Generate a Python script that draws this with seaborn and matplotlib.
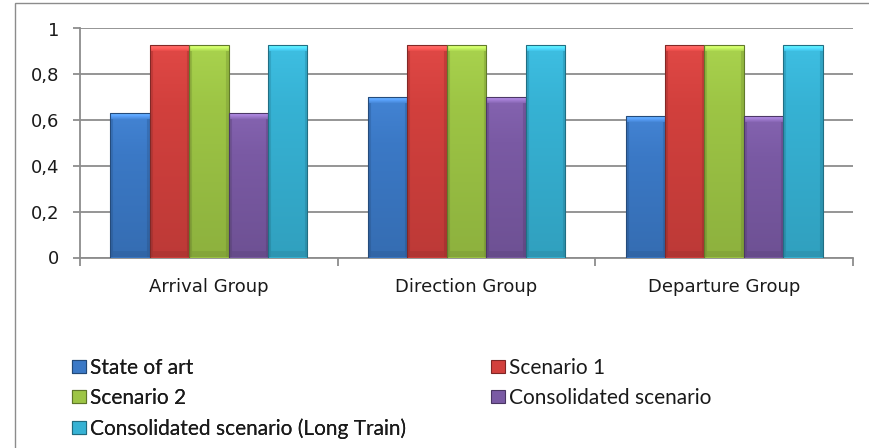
import matplotlib
matplotlib.use("Agg")
import matplotlib.pyplot as plt
import matplotlib.patches as mpatches
import matplotlib.colors as mcolors
from matplotlib.font_manager import FontProperties
import numpy as np
import pandas as pd
import seaborn as sns

groups = ["Arrival Group", "Direction Group", "Departure Group"]
series = ["State of art", "Scenario 1", "Scenario 2",
          "Consolidated scenario", "Consolidated scenario (Long Train)"]
state_of_art = [0.63, 0.70, 0.62]
scenario_1 = [0.93, 0.93, 0.93]
scenario_2 = [0.93, 0.93, 0.93]
consolidated = [0.63, 0.70, 0.62]
consolidated_long = [0.93, 0.93, 0.93]
colors = ["#3B79C6", "#D2403D", "#9DC545", "#7A5AA4", "#36B2D4"]
yticks = [0, 0.2, 0.4, 0.6, 0.8, 1]
ytick_labels = ["0", "0,2", "0,4", "0,6", "0,8", "1"]

table = {s: v for s, v in zip(series, [state_of_art, scenario_1, scenario_2,
                                        consolidated, consolidated_long])}
rows = [(g, s, v) for s in series for g, v in zip(groups, table[s])]
df = pd.DataFrame(rows, columns=["group", "series", "value"])

sns.set_style("white")
plt.rcParams["font.family"] = ["DejaVu Sans"]

W, H = 869, 448
fig = plt.figure(figsize=(W / 100, H / 100), dpi=100)
ax = fig.add_axes([80 / W, 1 - 257.5 / H, (853 - 80) / W, (257.5 - 28.5) / H])

sns.barplot(data=df, x="group", y="value", hue="series", order=groups,
            hue_order=series, palette=colors, saturation=1, width=0.765,
            gap=0, edgecolor="none", linewidth=0, legend=False, ax=ax, zorder=3)

ax.set_ylim(0, 1)
ax.set_xlim(-0.5, 2.5)


def shade(color, nrow, ncol):
    """Bevelled fill: light top bevel, darker sides and base, soft vertical fade."""
    base = np.array(mcolors.to_rgb(color))
    r = np.arange(nrow)[:, None]
    c = np.arange(ncol)[None, :]
    f = 1.04 - 0.14 * (r / max(nrow - 1, 1))
    f = f * np.ones((nrow, ncol))
    top = r < 7
    f = np.where(top, f + 0.22 * (1 - r / 7), f)
    side = (c < 3) | (c >= ncol - 3)
    f = np.where(side & ~top, f - 0.10, f)
    base_band = r >= nrow - 6
    f = np.where(base_band & ~side, f - 0.06, f)
    img = np.clip(base[None, None, :] * f[..., None]
                  + np.where(f[..., None] > 1, (f[..., None] - 1) * 0.6, 0), 0, 1)
    return img


ppu_x = (853 - 80) / 3.0
ppu_y = 257.5 - 28.5
for patch in list(ax.patches):
    x, y = patch.get_x(), patch.get_y()
    w, h = patch.get_width(), patch.get_height()
    if h <= 0:
        continue
    fc = patch.get_facecolor()
    nrow = max(int(round(h * ppu_y)), 2)
    ncol = max(int(round(w * ppu_x)), 2)
    img = shade(fc, nrow, ncol)
    im = ax.imshow(img, extent=[x, x + w, y, y + h], origin="upper",
                   aspect="auto", interpolation="bilinear", zorder=3.5)
    im.set_clip_path(patch)
    patch.set_zorder(3)
    edge = mpatches.Rectangle((x, y), w, h, fill=False,
                              edgecolor=tuple(v * 0.62 for v in fc[:3]),
                              linewidth=0.8, zorder=3.6)
    ax.add_patch(edge)

ax.set_xlim(-0.5, 2.5)
ax.set_ylim(0, 1)

grid = "#8C8C8C"
ax.set_yticks(yticks)
ax.set_yticklabels(ytick_labels)
ax.yaxis.grid(True, color=grid, linewidth=1.3, zorder=0)
ax.set_axisbelow(True)
ax.set_xticks([-0.5, 0.5, 1.5, 2.5], minor=False)
ax.set_xticklabels([])
ax.set_xticks([0, 1, 2], minor=True)
ax.set_xticklabels(groups, minor=True)
ax.tick_params(axis="x", which="major", length=6, width=1.3, color=grid, direction="out")
ax.tick_params(axis="x", which="minor", length=0, pad=15, labelsize=13, labelcolor="#1A1A1A")
ax.tick_params(axis="y", length=5, width=1.3, color=grid, direction="out", pad=10,
               labelsize=13, labelcolor="#1A1A1A")
ax.tick_params(left=True, bottom=True)
ax.set_xlabel("")
ax.set_ylabel("")
for side in ["top", "right"]:
    ax.spines[side].set_visible(False)
for side in ["left", "bottom"]:
    ax.spines[side].set_color(grid)
    ax.spines[side].set_linewidth(1.3)

# chart area frame
fig.patches.append(mpatches.Rectangle((15 / W, -0.1), 1.2, 1 - 3 / H + 0.1,
                                      transform=fig.transFigure, fill=False,
                                      edgecolor="#8C8C8C", linewidth=1.0))


# legend: two columns placed side by side
def legend_handle(color):
    rgb = mcolors.to_rgb(color)
    return mpatches.Patch(facecolor=color, edgecolor=tuple(v * 0.6 for v in rgb),
                          linewidth=0.8)


legfont = FontProperties(family=["Lato", "DejaVu Sans"], size=15)
common = dict(loc="upper left", frameon=False, prop=legfont, handlelength=0.68,
              handleheight=0.58, handletextpad=0.2, labelspacing=0.48,
              borderaxespad=0, borderpad=0, labelcolor="#1A1A1A")
left_idx = [0, 2, 4]
right_idx = [1, 3]
leg1 = fig.legend([legend_handle(colors[i]) for i in left_idx],
                  [series[i] for i in left_idx],
                  bbox_to_anchor=(72 / W, 1 - 358 / H), **common)
fig.add_artist(leg1)
fig.legend([legend_handle(colors[i]) for i in right_idx],
           [series[i] for i in right_idx],
           bbox_to_anchor=(491 / W, 1 - 358 / H), **common)

fig.savefig("out.png", dpi=100, facecolor="white")
